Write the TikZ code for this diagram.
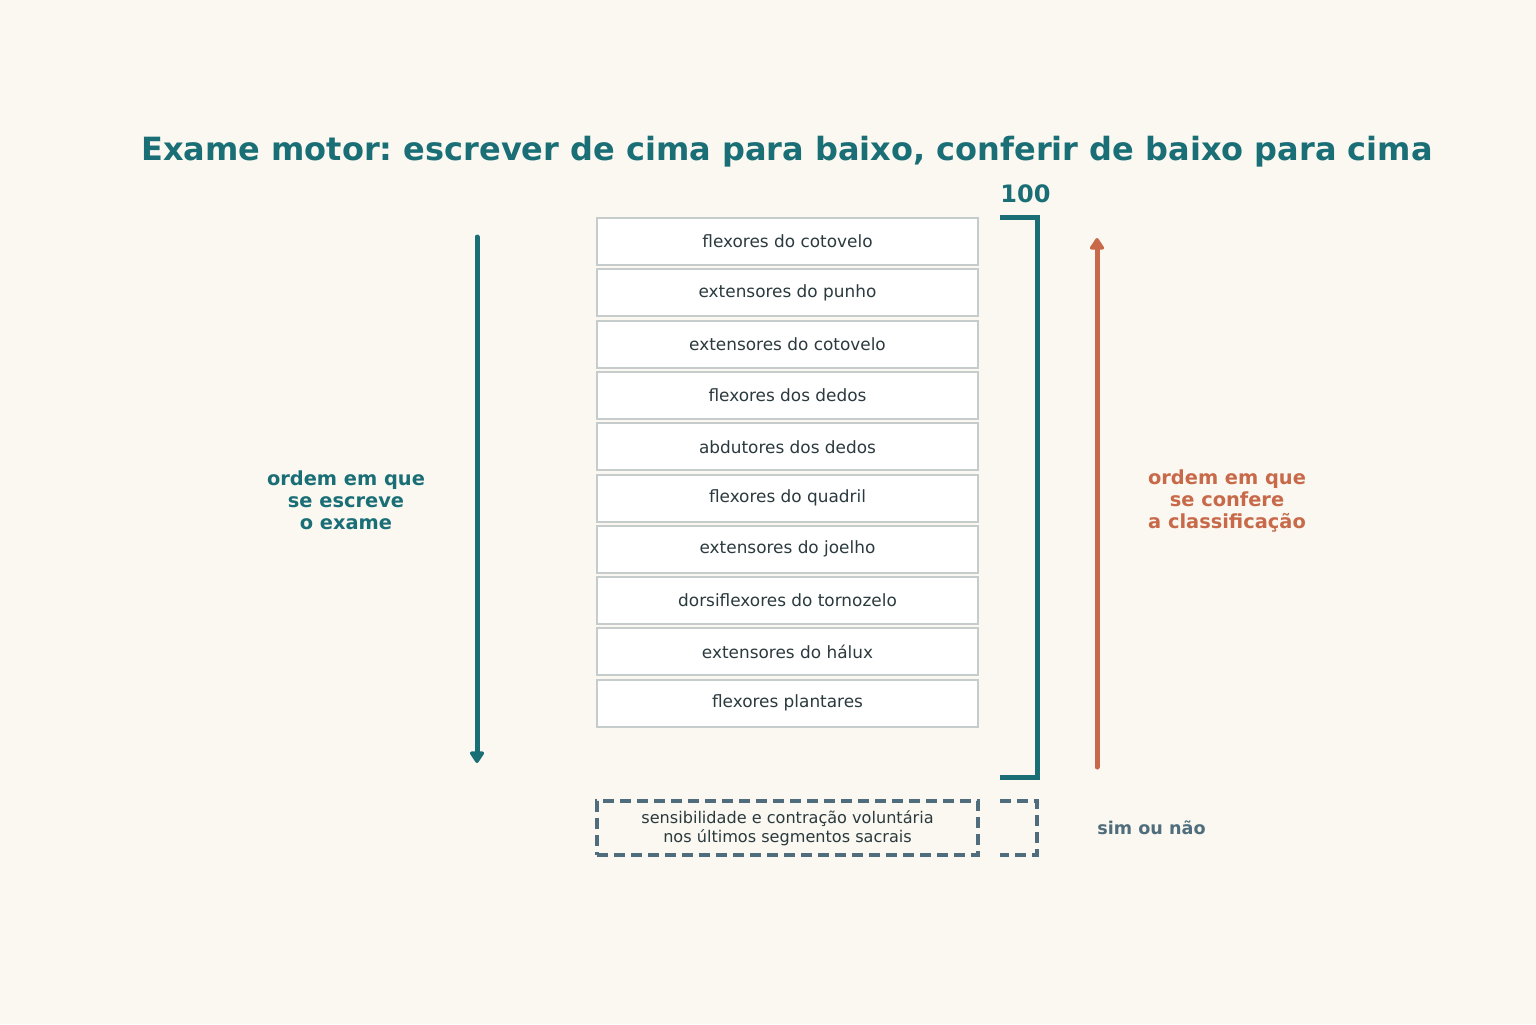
\documentclass[tikz,border=0pt]{standalone}
\usepackage{fontspec}
\setmainfont{DejaVu Sans}
\usetikzlibrary{arrows.meta}
\definecolor{bgcream}{HTML}{FAF8F0}
\definecolor{cteal}{HTML}{1A6E76}
\definecolor{corange}{HTML}{C8694A}
\definecolor{cslate}{HTML}{4F6D7C}
\definecolor{ctext}{HTML}{2B3A3E}
\definecolor{cborder}{HTML}{C6CCCC}
\frenchspacing
\begin{document}
\begin{tikzpicture}[x=0.5pt, y=-0.5pt,
    % Styles
    muscle/.style={draw=cborder, fill=white, line width=1pt, minimum width=190.5pt,
                   minimum height=23.5pt, inner sep=0pt, font=\fontsize{8.45}{10}\selectfont, text=ctext},
    sidelbl/.style={font=\bfseries\fontsize{9.7}{11}\selectfont, align=center},
    bracket/.style={draw=cteal, line width=2.5pt},
    dashbox/.style={draw=cslate, line width=1.6pt, dash pattern=on 5.5pt off 3pt},
    downarrow/.style={-{Triangle[round, length=6.5pt, width=8pt]}, line width=2.5pt, draw=cteal, line cap=round},
    uparrow/.style={-{Triangle[round, length=6.5pt, width=8pt]}, line width=2.5pt, draw=corange, line cap=round},
  ]

  % Background
  \fill[bgcream] (0,0) rectangle (1536,1024);

  % Title
  \node[font=\bfseries\fontsize{16}{19}\selectfont, text=cteal] (title) at (787,152)
    {Exame motor: escrever de cima para baixo, conferir de baixo para cima};

  % Muscle boxes
  \node[muscle] (m1) at (787.5,241.5) {flexores do cotovelo};
  \node[muscle] (m2) at (787.5,292.8) {extensores do punho};
  \node[muscle] (m3) at (787.5,344.1) {extensores do cotovelo};
  \node[muscle] (m4) at (787.5,395.4) {flexores dos dedos};
  \node[muscle] (m5) at (787.5,446.7) {abdutores dos dedos};
  \node[muscle] (m6) at (787.5,498.0) {flexores do quadril};
  \node[muscle] (m7) at (787.5,549.3) {extensores do joelho};
  \node[muscle] (m8) at (787.5,600.6) {dorsiflexores do tornozelo};
  \node[muscle] (m9) at (787.5,651.9) {extensores do hálux};
  \node[muscle] (m10) at (787.5,703.2) {flexores plantares};

  % Bracket with total
  \coordinate (brtop) at (1000,217);
  \coordinate (brbot) at (1000,777);
  \draw[bracket] (brtop) -- ++(37,0) |- (brbot);
  \node[font=\bfseries\fontsize{12}{14}\selectfont, text=cteal, anchor=south west, inner sep=0pt]
    (total) at (1000,203) {100};

  % Sacral segments
  \node[dashbox, minimum width=190.5pt, minimum height=27pt, inner sep=0pt, align=center,
        font=\fontsize{8.05}{9.5}\selectfont, text=ctext] (sacral) at (787.5,828)
    {sensibilidade e contração voluntária\\nos últimos segmentos sacrais};
  \coordinate (sactop) at (1000,801);
  \coordinate (sacbot) at (1000,855);
  \draw[dashbox] (sactop) -- ++(37,0) |- (sacbot);
  \node[font=\bfseries\fontsize{8.8}{10}\selectfont, text=cslate, anchor=west, inner sep=0pt]
    (simnao) at (1097,828) {sim ou não};

  % Arrows
  \coordinate (wstart) at (477,237);
  \coordinate (wend) at (477,763);
  \draw[downarrow] (wstart) -- (wend);
  \coordinate (cstart) at (1097,767);
  \coordinate (cend) at (1097,238);
  \draw[uparrow] (cstart) -- (cend);

  % Side labels
  \node[sidelbl, text=cteal] (writelbl) at (346,500) {ordem em que\\se escreve\\o exame};
  \node[sidelbl, text=corange] (checklbl) at (1227,501) {ordem em que\\se confere\\a classificação};

\end{tikzpicture}
\end{document}
